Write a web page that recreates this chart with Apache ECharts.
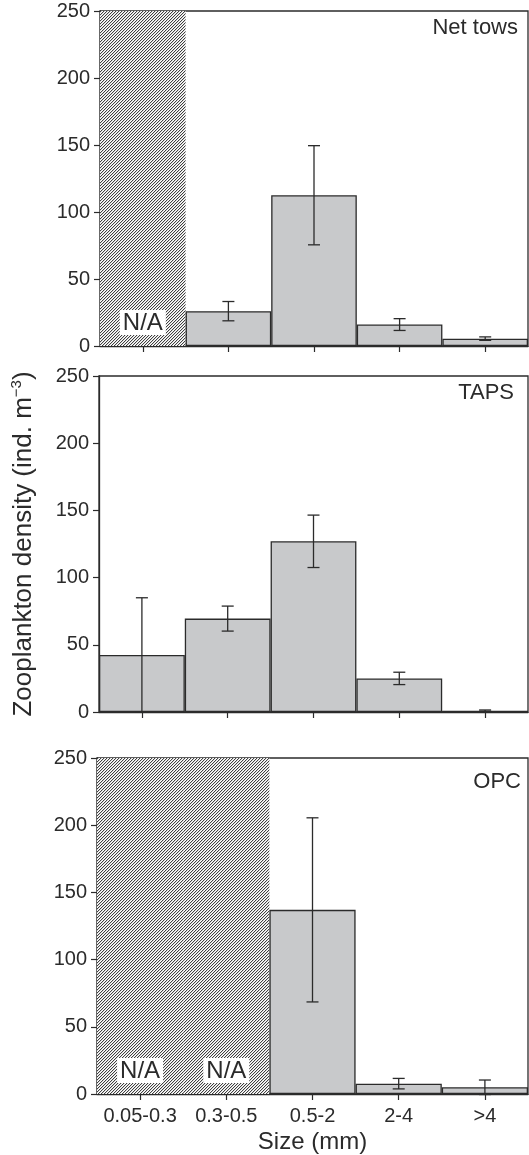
<!DOCTYPE html>
<html>
<head>
<meta charset="utf-8">
<script src="https://cdn.jsdelivr.net/npm/echarts@6/dist/echarts.min.js"></script>
<style>
html, body { margin: 0; padding: 0; background: #fff; }
#main { width: 529px; height: 1155px; }
</style>
</head>
<body>
<div id="main"></div>
<script>
var sizeClasses = ['0.05-0.3', '0.3-0.5', '0.5-2', '2-4', '>4']
var panelNames = ['Net tows', 'TAPS', 'OPC']

// null = not available (hatched N/A)
var netTowsMean = [null, 26, 112.5, 16, 5.5]
var netTowsErr = [null, 7.2, 37, 4.4, 1.3]
var tapsMean = [42.5, 69.5, 127, 25, 1]
var tapsErr = [42.5, 9.3, 19.5, 4.6, 0.5]
var opcMean = [null, null, 137, 7.7, 5]
var opcErr = [null, null, 68.5, 3.9, 5.4]

var means = [netTowsMean, tapsMean, opcMean]
var errs = [netTowsErr, tapsErr, opcErr]

var FONT = "'Liberation Sans', Arial, Helvetica, sans-serif"
var INK = '#2b2b2b'

// diagonal "/" hatch tile for the N/A bands, drawn pixel by pixel
function hatchPattern() {
    var n = 3
    var c = document.createElement('canvas')
    c.width = n
    c.height = n
    var ctx = c.getContext('2d')
    var shades = ['#404040', '#d6d6d6', '#ffffff']
    for (var x = 0; x < n; x++) {
        for (var y = 0; y < n; y++) {
            ctx.fillStyle = shades[(x + y) % n]
            ctx.fillRect(x, y, 1, 1)
        }
    }
    return { image: c, repeat: 'repeat' }
}

function renderErr(params, api) {
    var x = api.value(0), m = api.value(1), e = api.value(2)
    var top = api.coord([x, m + e])
    var bot = api.coord([x, m - e])
    var w = 6
    var style = { stroke: INK, lineWidth: 1.3, fill: null }
    return {
        type: 'group',
        children: [
            { type: 'line', shape: { x1: top[0], y1: top[1], x2: bot[0], y2: bot[1] }, style: style },
            { type: 'line', shape: { x1: top[0] - w, y1: top[1], x2: top[0] + w, y2: top[1] }, style: style },
            { type: 'line', shape: { x1: bot[0] - w, y1: bot[1], x2: bot[0] + w, y2: bot[1] }, style: style }
        ]
    }
}

var grids = [
    { left: 100, right: 1, top: 11, height: 335 },
    { left: 99, right: 1, top: 376, height: 336 },
    { left: 97, right: 1, top: 758, height: 336 }
]
var titlePos = [
    { right: 11, top: 17 },
    { right: 15, top: 382 },
    { right: 8, top: 771 }
]

var hatch = hatchPattern()
var option = {
    animation: false,
    backgroundColor: '#fff',
    textStyle: { fontFamily: FONT },
    title: [],
    grid: [],
    xAxis: [],
    yAxis: [],
    series: []
}

for (var p = 0; p < 3; p++) {
    var g = grids[p]
    option.grid.push({
        left: g.left, right: g.right, top: g.top, height: g.height,
        show: true, borderColor: INK, borderWidth: 1.3, backgroundColor: 'transparent'
    })
    option.title.push({
        text: panelNames[p], right: titlePos[p].right, top: titlePos[p].top, padding: 0,
        textStyle: { fontFamily: FONT, fontSize: 22, fontWeight: 'normal', color: INK }
    })
    var last = p === 2
    option.xAxis.push({
        type: 'category',
        gridIndex: p,
        data: sizeClasses,
        axisLine: { show: true, lineStyle: { color: INK, width: 1.3 } },
        axisTick: { show: true, alignWithLabel: true, length: 6, lineStyle: { color: INK, width: 1.2 } },
        axisLabel: { show: last, interval: 0, margin: 12, fontSize: 20, color: INK, fontFamily: FONT },
        name: last ? 'Size (mm)' : '',
        nameLocation: 'middle',
        nameGap: 36,
        nameTextStyle: { fontSize: 24, color: INK, fontFamily: FONT }
    })
    option.yAxis.push({
        type: 'value',
        gridIndex: p,
        min: 0,
        max: 250,
        interval: 50,
        splitLine: { show: false },
        axisLine: { show: true, lineStyle: { color: INK, width: 1.3 } },
        axisTick: { show: true, length: 6, lineStyle: { color: INK, width: 1.2 } },
        axisLabel: { fontSize: 20, color: INK, margin: 10, fontFamily: FONT },
        name: p === 1 ? 'Zooplankton density (ind. m{sup|\u22123})' : '',
        nameLocation: 'middle',
        nameGap: 60,
        nameTextStyle: {
            fontSize: 26, color: INK, fontFamily: FONT, lineHeight: 30,
            rich: { sup: { fontSize: 15, verticalAlign: 'top', lineHeight: 30, color: INK, fontFamily: FONT } }
        }
    })

    var mean = means[p], err = errs[p]
    option.series.push({
        type: 'bar',
        xAxisIndex: p, yAxisIndex: p,
        barGap: '-100%',
        barCategoryGap: '0%',
        data: mean.map(function (v) { return v === null ? 250 : '-' }),
        itemStyle: { color: hatch, borderWidth: 0 },
        label: {
            show: true, formatter: 'N/A', position: 'insideBottom', distance: 11,
            backgroundColor: '#fff', padding: [1, 3, 0, 3],
            fontSize: 24, color: INK, fontFamily: FONT
        },
        silent: true
    })
    option.series.push({
        type: 'bar',
        xAxisIndex: p, yAxisIndex: p,
        barGap: '-100%',
        barCategoryGap: '0%',
        data: mean.map(function (v) { return v === null ? '-' : v }),
        itemStyle: { color: '#c8c9cb', borderColor: INK, borderWidth: 1.3 }
    })
    option.series.push({
        type: 'custom',
        xAxisIndex: p, yAxisIndex: p,
        renderItem: renderErr,
        z: 5,
        data: mean.map(function (v, i) { return v === null ? null : [i, v, err[i]] })
            .filter(function (d) { return d !== null })
    })
}

var myChart = echarts.init(document.getElementById('main'))
myChart.setOption(option)
</script>
</body>
</html>
